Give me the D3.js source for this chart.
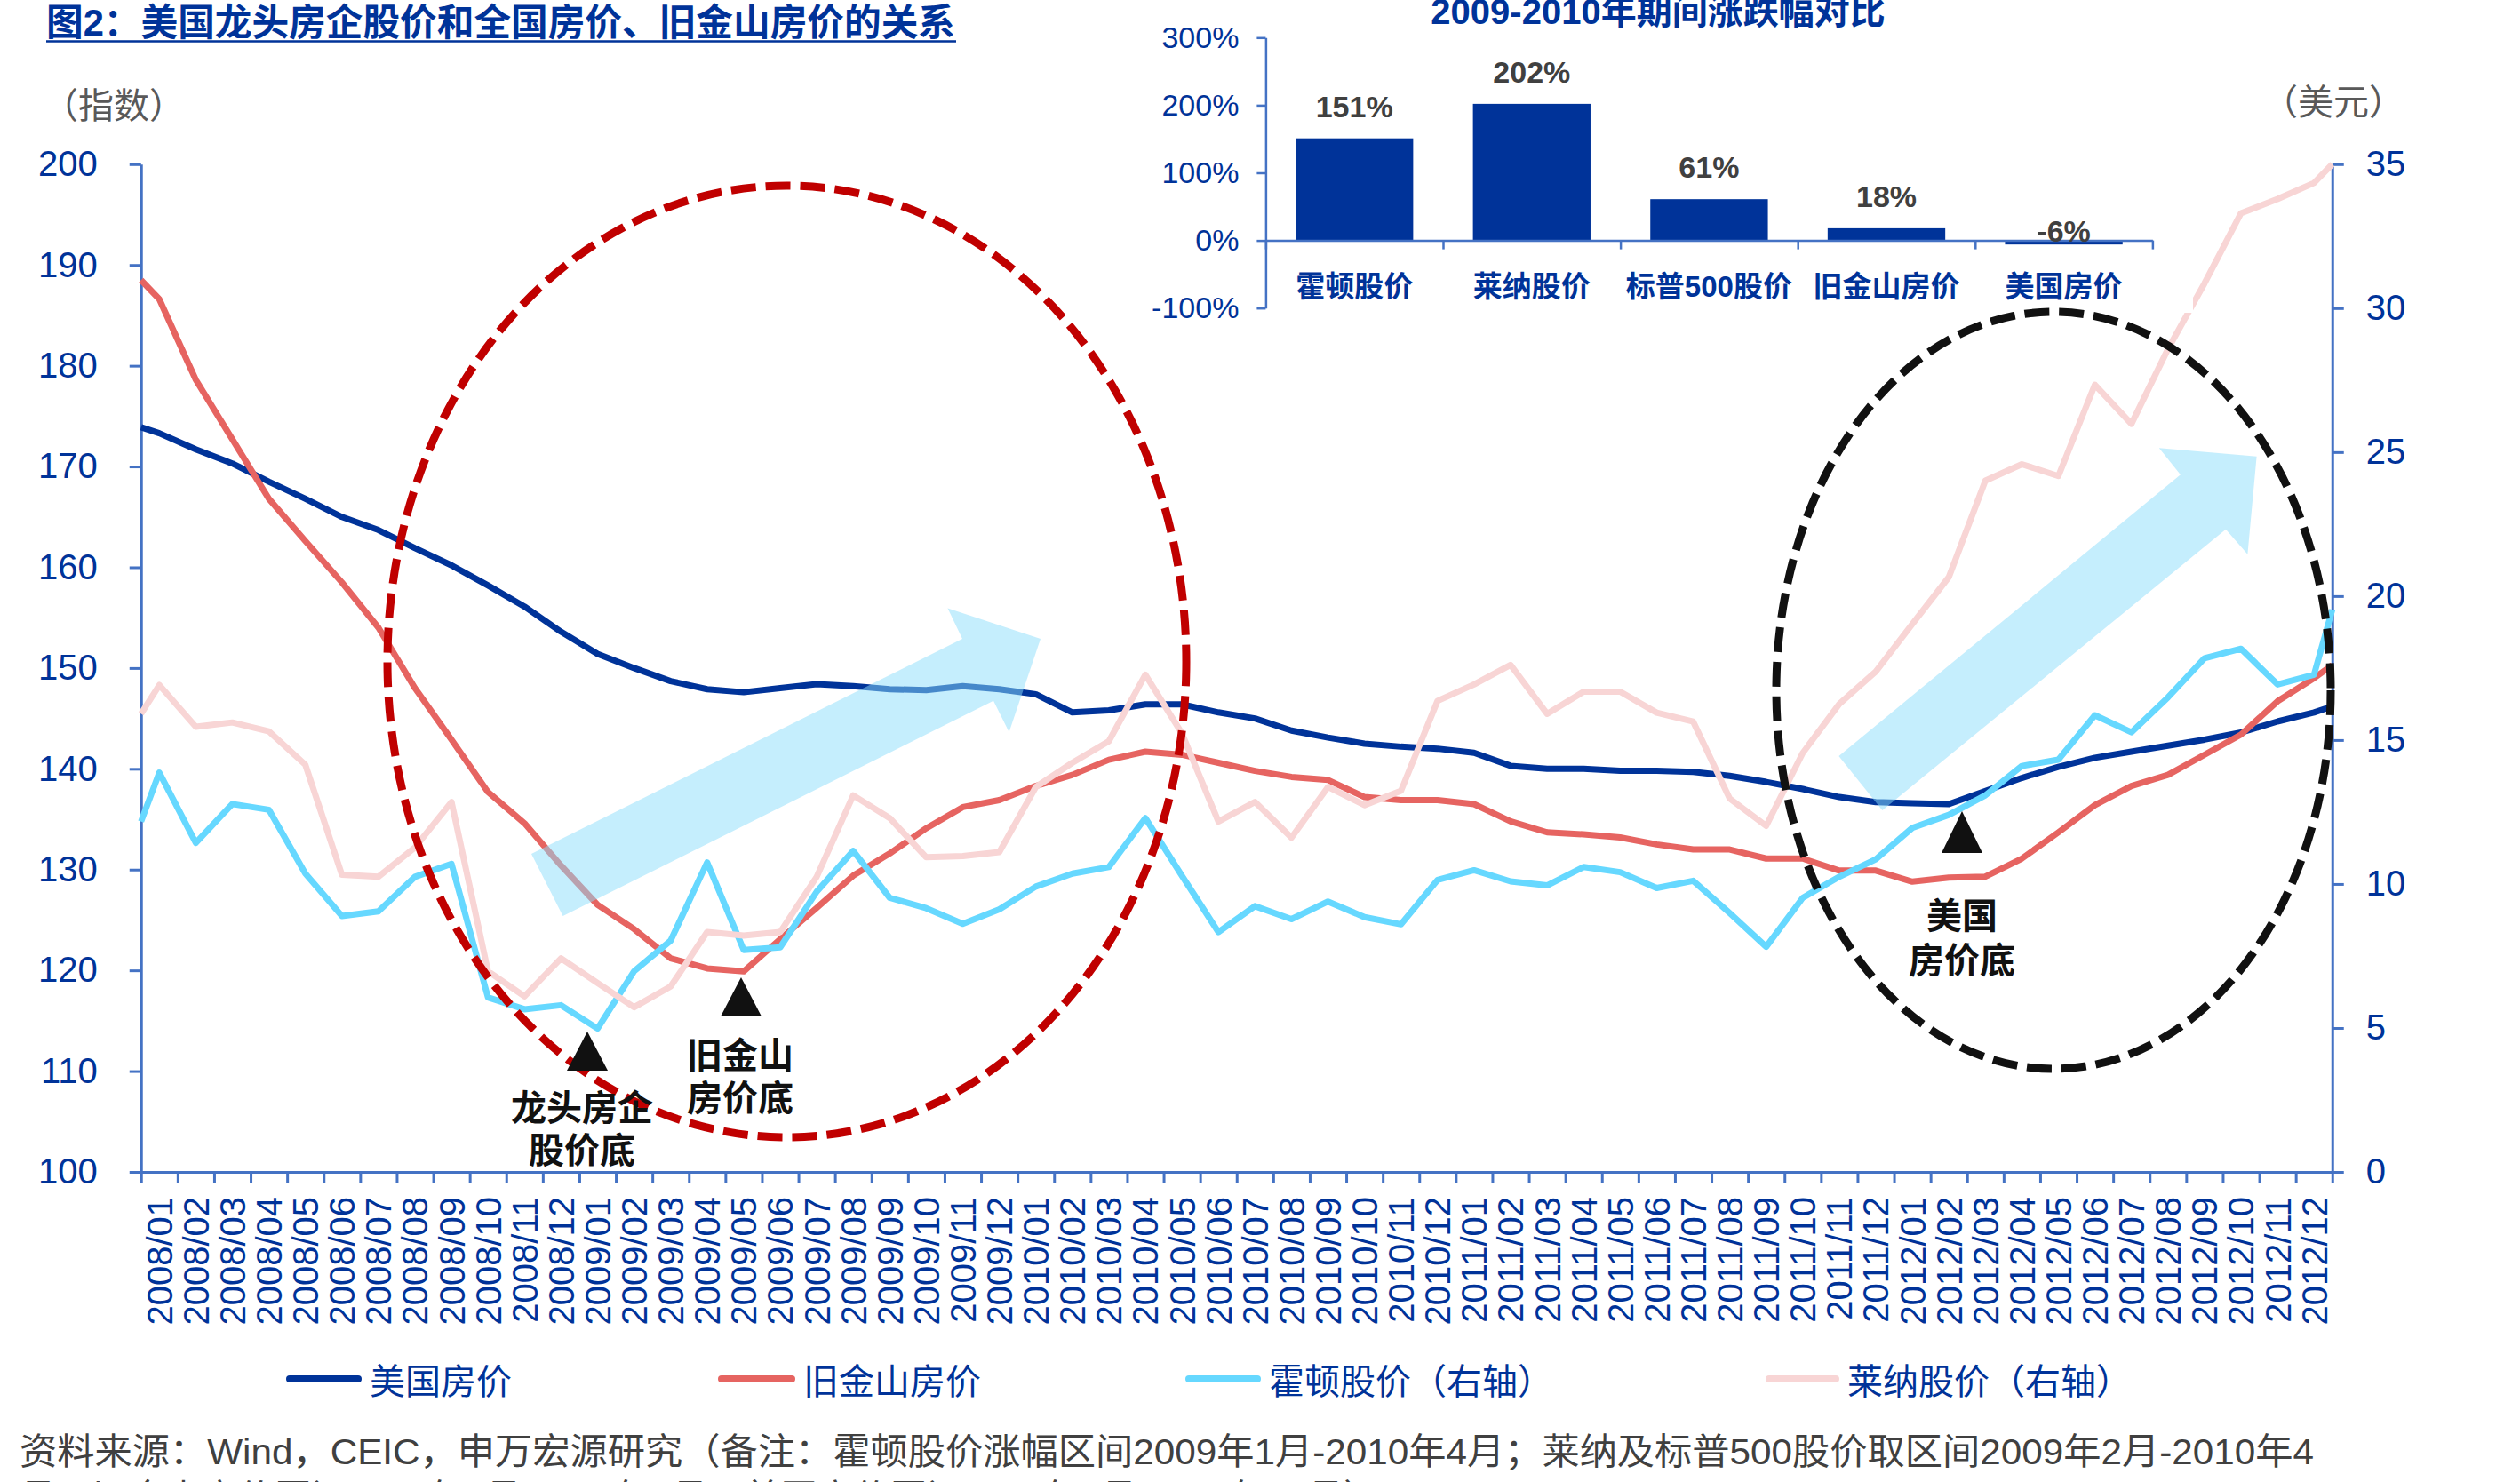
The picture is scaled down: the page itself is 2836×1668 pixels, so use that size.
<!DOCTYPE html>
<html><head><meta charset="utf-8">
<script src="https://cdn.jsdelivr.net/npm/d3@7"></script>
<style>html,body{margin:0;padding:0;background:#fff;} svg{display:block;}</style>
</head><body>
<svg id="chart" width="2836" height="1668"></svg>
<script>
// ---------------- DATA ----------------
const months = [
 "2008/01","2008/02","2008/03","2008/04","2008/05","2008/06","2008/07","2008/08","2008/09","2008/10","2008/11","2008/12",
 "2009/01","2009/02","2009/03","2009/04","2009/05","2009/06","2009/07","2009/08","2009/09","2009/10","2009/11","2009/12",
 "2010/01","2010/02","2010/03","2010/04","2010/05","2010/06","2010/07","2010/08","2010/09","2010/10","2010/11","2010/12",
 "2011/01","2011/02","2011/03","2011/04","2011/05","2011/06","2011/07","2011/08","2011/09","2011/10","2011/11","2011/12",
 "2012/01","2012/02","2012/03","2012/04","2012/05","2012/06","2012/07","2012/08","2012/09","2012/10","2012/11","2012/12"];

// 美国房价 (left axis, index)
const usHPI = [173.3,171.7,170.3,168.5,166.8,165.0,163.7,161.9,160.2,158.2,
 156.1,153.6,151.4,150.0,148.7,147.9,147.6,148.0,148.4,148.2,
 147.9,147.8,148.2,147.9,147.4,145.6,145.8,146.4,146.4,145.6,
 145.0,143.8,143.1,142.5,142.2,142.0,141.6,140.3,140.0,140.0,
 139.8,139.8,139.7,139.3,138.7,138.0,137.2,136.7,136.6,136.5,
 137.8,139.1,140.2,141.1,141.7,142.3,142.9,143.6,144.7,145.6];
// 旧金山房价 (left axis, index)
const sfHPI = [186.6,178.6,172.7,166.8,162.6,158.5,154.0,148.0,142.9,137.7,
 134.6,130.4,126.5,124.1,121.2,120.2,119.9,123.1,126.2,129.4,
 131.6,134.1,136.2,136.9,138.3,139.4,140.9,141.7,141.4,140.6,
 139.8,139.2,138.9,137.2,136.9,136.9,136.5,134.8,133.7,133.5,
 133.2,132.5,132.0,132.0,131.1,131.1,129.9,129.9,128.8,129.2,
 129.3,131.1,133.7,136.4,138.3,139.4,141.4,143.4,146.7,149.0];
// 霍顿股价 (right axis, USD)
const hortonPrice = [13.87,11.43,12.78,12.58,10.36,8.89,9.05,10.25,10.70,6.06,
 5.65,5.79,4.98,6.97,8.03,10.75,7.71,7.80,9.73,11.15,
 9.52,9.16,8.62,9.12,9.91,10.36,10.59,12.29,10.29,8.33,
 9.23,8.78,9.39,8.85,8.60,10.14,10.48,10.09,9.95,10.59,
 10.41,9.86,10.11,8.99,7.82,9.52,10.25,10.86,11.95,12.40,
 13.08,14.10,14.32,15.86,15.27,16.48,17.84,18.17,16.93,17.27];
// 莱纳股价 (right axis, USD)
const lennarPrice = [16.91,15.46,15.61,15.30,14.14,10.32,10.25,11.27,12.85,6.97,
 6.10,7.42,6.56,5.72,6.44,8.33,8.21,8.33,10.25,13.08,
 12.29,10.93,10.97,11.11,13.37,14.21,14.96,17.27,15.23,12.17,
 12.85,11.61,13.37,12.74,13.24,16.36,16.93,17.61,15.91,16.68,
 16.68,15.95,15.64,12.97,12.02,14.55,16.25,17.38,19.03,20.66,
 24.01,24.58,24.17,27.34,25.98,28.58,30.86,33.30,33.79,34.35];
// values where each line meets the left / right axis
const usEdge = [173.9, 146.2];
const sfEdge = [188.5, 150.3];
const hortonEdge = [12.17, 19.53];
const lennarEdge = [15.91, 35.0];

const leftTicks = [100,110,120,130,140,150,160,170,180,190,200];
const rightTicks = [0,5,10,15,20,25,30,35];
const legendLabels = ["美国房价","旧金山房价","霍顿股价（右轴）","莱纳股价（右轴）"];

// inset bar chart
const barCats = ["霍顿股价","莱纳股价","标普500股价","旧金山房价","美国房价"];
const barValues = [151, 202, 61, 18, -6];
const insetTicks = [-100, 0, 100, 200, 300];

// ---------------- STYLE ----------------
const CJK = "'Noto Sans CJK SC', sans-serif";
const LAT = "'Liberation Sans', Arial, 'Noto Sans CJK SC', sans-serif";
const NAVY = "#003399", AXIS = "#4472C4";
const colors = {us:"#003399", sf:"#E66461", horton:"#66D8FF", lennar:"#F8D5D5"};

const svg = d3.select("#chart");
const plot = {left:158.75, right:2624.75, top:184.8, bottom:1319};

const xBand = d3.scaleBand().domain(months).range([plot.left, plot.right]);
const xIdx = d3.scaleLinear().domain([-0.5, months.length - 0.5]).range([plot.left, plot.right]);
const xTick = d3.scaleLinear().domain([0, months.length]).range([plot.left, plot.right]);
const yL = d3.scaleLinear().domain([100, 200]).range([plot.bottom, plot.top]);
const yR = d3.scaleLinear().domain([0, 35]).range([plot.bottom, plot.top]);

function styleAxis(g, size){
  g.selectAll(".domain").attr("stroke", AXIS).attr("stroke-width", 3);
  g.selectAll(".tick line").attr("stroke", AXIS).attr("stroke-width", 3);
  g.selectAll(".tick text").attr("fill", NAVY).style("font-family", LAT).style("font-size", size + "px");
}

// ---- axes ----
const gxA = svg.append("g").attr("transform", `translate(0,${plot.bottom})`)
  .call(d3.axisBottom(xTick).tickValues(d3.range(0, months.length + 1)).tickSize(13).tickSizeOuter(0).tickFormat(""));
styleAxis(gxA, 40);
svg.append("g").selectAll("text").data(months).join("text")
  .attr("transform", d => `translate(${xBand(d) + xBand.bandwidth()/2},${plot.bottom + 28}) rotate(-90)`)
  .attr("text-anchor", "end").attr("dy", "0.36em")
  .attr("fill", NAVY).style("font-family", LAT).style("font-size", "40px")
  .text(d => d);

const gyL = svg.append("g").attr("transform", `translate(${plot.left},0)`)
  .call(d3.axisLeft(yL).tickValues(leftTicks).tickSize(13).tickPadding(36).tickSizeOuter(0));
styleAxis(gyL, 40);
const gyR = svg.append("g").attr("transform", `translate(${plot.right},0)`)
  .call(d3.axisRight(yR).tickValues(rightTicks).tickSize(13).tickPadding(25).tickSizeOuter(0));
styleAxis(gyR, 40);

svg.append("text").attr("x", 48).attr("y", 116).attr("dominant-baseline", "central")
  .attr("fill", "#595959").style("font-family", CJK).style("font-size", "40px").text("（指数）");
svg.append("text").attr("x", 2626).attr("y", 112).attr("text-anchor", "middle").attr("dominant-baseline", "central")
  .attr("fill", "#595959").style("font-family", CJK).style("font-size", "40px").text("（美元）");

// ---- lines ----
function pts(vals, edge){ return [[-0.5, edge[0]], ...vals.map((v, i) => [i, v]), [vals.length - 0.5, edge[1]]]; }
const series = [
  {key:"us", vals:usHPI, edge:usEdge, y:yL},
  {key:"sf", vals:sfHPI, edge:sfEdge, y:yL},
  {key:"horton", vals:hortonPrice, edge:hortonEdge, y:yR},
  {key:"lennar", vals:lennarPrice, edge:lennarEdge, y:yR}
];
series.forEach(s => {
  const line = d3.line().x(d => xIdx(d[0])).y(d => s.y(d[1]));
  svg.append("path").datum(pts(s.vals, s.edge)).attr("d", line)
    .attr("fill", "none").attr("stroke", colors[s.key]).attr("stroke-width", 7)
    .attr("stroke-linejoin", "round");
});

// ---- inset bar chart ----
const inset = {left:1424.4, right:2422.4, top:42.3, bottom:346.7};
svg.append("rect").attr("x", 1280).attr("y", 0).attr("width", 2468 - 1280).attr("height", 352).attr("fill", "#fff");
const yI = d3.scaleLinear().domain([-100, 300]).range([inset.bottom, inset.top]);
const xI = d3.scaleBand().domain(barCats).range([inset.left, inset.right]);
const xIt = d3.scaleLinear().domain([0, barCats.length]).range([inset.left, inset.right]);
const barW = xI.bandwidth() * 0.663;

svg.append("text").attr("x", 1866).attr("y", 27).attr("text-anchor", "middle")
  .attr("fill", NAVY).style("font-family", LAT).style("font-size", "40px").style("font-weight", "bold")
  .text("2009-2010年期间涨跌幅对比");

svg.append("g").selectAll("rect").data(barValues).join("rect")
  .attr("x", (d, i) => xI(barCats[i]) + xI.bandwidth()/2 - barW/2)
  .attr("y", d => yI(Math.max(d, 0)))
  .attr("width", barW)
  .attr("height", d => Math.abs(yI(d) - yI(0)))
  .attr("fill", NAVY);

const gyI = svg.append("g").attr("transform", `translate(${inset.left},0)`)
  .call(d3.axisLeft(yI).tickValues(insetTicks).tickSize(10).tickPadding(20).tickSizeOuter(0).tickFormat(d => d + "%"));
styleAxis(gyI, 34);
gyI.selectAll(".domain, .tick line").attr("stroke-width", 2.5);
const gxI = svg.append("g").attr("transform", `translate(0,${yI(0)})`)
  .call(d3.axisBottom(xIt).tickValues(d3.range(0, barCats.length + 1)).tickSize(10).tickSizeOuter(0).tickFormat(""));
styleAxis(gxI, 34);
gxI.selectAll(".domain, .tick line").attr("stroke-width", 2.5);

svg.append("g").selectAll("text").data(barCats).join("text")
  .attr("x", d => xI(d) + xI.bandwidth()/2).attr("y", 322)
  .attr("text-anchor", "middle").attr("dominant-baseline", "central")
  .attr("fill", NAVY).style("font-family", LAT).style("font-size", "33px").style("font-weight", "bold")
  .text(d => d);
svg.append("g").selectAll("text").data(barValues).join("text")
  .attr("x", (d, i) => xI(barCats[i]) + xI.bandwidth()/2)
  .attr("y", d => d >= 0 ? yI(d) - 24 : yI(0) + 1)
  .attr("text-anchor", "middle")
  .attr("fill", "#404040").style("font-family", LAT).style("font-size", "34px").style("font-weight", "bold")
  .text(d => d + "%");

// ---- annotations ----
const arrowFill = "rgb(139,221,251)";
const arrows = [
  [[598,961],[1083,719],[1066.5,684.6],[1171,719],[1135.6,824],[1118,788.7],[633.5,1031]],
  [[2069.4,851],[2453.9,534.2],[2429.8,504.2],[2539.6,513.7],[2529.4,623.7],[2504.9,595.8],[2118.4,912]]
];
arrows.forEach(a => svg.append("polygon").attr("points", a.map(p => p.join(",")).join(" "))
  .attr("fill", arrowFill).attr("opacity", 0.5));

svg.append("ellipse").attr("cx", 885.5).attr("cy", 744.5).attr("rx", 449.5).attr("ry", 535.5)
  .attr("fill", "none").attr("stroke", "#C00000").attr("stroke-width", 9).attr("stroke-dasharray", "28 11");
svg.append("ellipse").attr("cx", 2311).attr("cy", 777).attr("rx", 312).attr("ry", 426)
  .attr("fill", "none").attr("stroke", "#111").attr("stroke-width", 9).attr("stroke-dasharray", "28 11");

const tris = [[661,1161,1205],[834,1100,1144],[2208,913,960]];
tris.forEach(t => svg.append("polygon")
  .attr("points", `${t[0]},${t[1]} ${t[0]-23},${t[2]} ${t[0]+23},${t[2]}`).attr("fill", "#111"));

// two-line annotation labels: [x, first line centre y, line gap, line1, line2]
const notes = [
  [655, 1247, 48, "龙头房企", "股价底"],
  [833, 1188, 48, "旧金山", "房价底"],
  [2208, 1031, 50, "美国", "房价底"]
];
notes.forEach(n => {
  const t = svg.append("text").attr("text-anchor", "middle")
    .attr("fill", "#111").style("font-family", CJK).style("font-size", "40px").style("font-weight", "bold");
  t.append("tspan").attr("x", n[0]).attr("y", n[1] + 14).text(n[3]);
  t.append("tspan").attr("x", n[0]).attr("y", n[1] + 14 + n[2]).text(n[4]);
});

// ---- title ----
svg.append("text").attr("x", 52).attr("y", 40).attr("textLength", 1023).attr("lengthAdjust", "spacingAndGlyphs")
  .attr("fill", NAVY).style("font-family", LAT).style("font-size", "42px").style("font-weight", "bold")
  .text("图2：美国龙头房企股价和全国房价、旧金山房价的关系");
svg.append("line").attr("x1", 52).attr("x2", 1076).attr("y1", 46.5).attr("y2", 46.5)
  .attr("stroke", NAVY).attr("stroke-width", 2.5);

// ---- legend ----
const legendPos = [[322,416],[808,904],[1334,1428],[1987,2079]];
const legendKeys = ["us","sf","horton","lennar"];
legendLabels.forEach((lab, i) => {
  svg.append("line").attr("x1", legendPos[i][0] + 4).attr("x2", legendPos[i][1] - 13)
    .attr("y1", 1552).attr("y2", 1552).attr("stroke", colors[legendKeys[i]])
    .attr("stroke-width", 8).attr("stroke-linecap", "round");
  svg.append("text").attr("x", legendPos[i][1]).attr("y", 1552).attr("dominant-baseline", "central")
    .attr("fill", NAVY).style("font-family", CJK).style("font-size", "40px").text(lab);
});

// ---- source ----
svg.append("text").attr("x", 22).attr("y", 1648).attr("textLength", 2582).attr("lengthAdjust", "spacingAndGlyphs")
  .attr("fill", "#404040").style("font-family", LAT).style("font-size", "41px")
  .text("资料来源：Wind，CEIC，申万宏源研究（备注：霍顿股价涨幅区间2009年1月-2010年4月；莱纳及标普500股价取区间2009年2月-2010年4");
svg.append("text").attr("x", 22).attr("y", 1700)
  .attr("fill", "#404040").style("font-family", LAT).style("font-size", "41px")
  .text("月，旧金山房价区间2009年5月-2010年4月；美国房价区间2009年1月-2010年12月）");
</script>
</body></html>
